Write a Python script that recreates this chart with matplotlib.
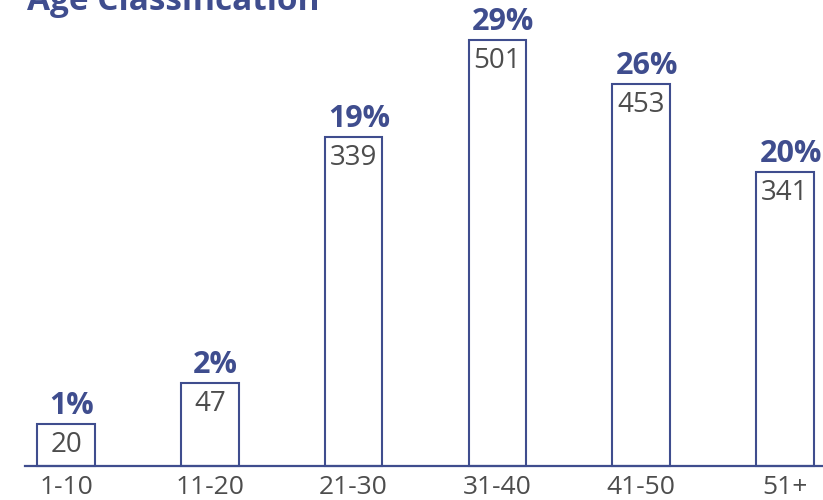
import matplotlib.pyplot as plt

# data
categories = ["1-10", "11-20", "21-30", "31-40", "41-50", "51+"]
counts = [20, 47, 339, 501, 453, 341]
percents = ["1%", "2%", "19%", "29%", "26%", "20%"]
# drawn bar heights (the infographic is not strictly to scale)
bar_heights = [42, 83, 329, 426, 382, 294]

navy = "#3f4d8e"
grey = "#4d4d4d"

plt.rcParams["font.family"] = ["Open Sans", "DejaVu Sans"]

fig = plt.figure(figsize=(8.23, 5), dpi=100)
ax = fig.add_axes([0, 0, 1, 1])
ax.set_xlim(-0.459, 5.264)
ax.set_ylim(-34, 466)
ax.axis("off")

x = range(len(categories))
ax.bar(x, bar_heights, width=0.4, color="white", edgecolor=navy, linewidth=1.5, zorder=2)
ax.axhline(0, xmin=0.03, xmax=1, color=navy, linewidth=1.6, zorder=3)

for i in x:
    h = bar_heights[i]
    ax.text(i + 0.04, h + 3, percents[i], ha="center", va="bottom",
            fontsize=22, fontweight="bold", color=navy)
    ax.text(i, h - 7, str(counts[i]), ha="center", va="top",
            fontsize=20, color=grey)
    ax.text(i, -9, categories[i], ha="center", va="top",
            fontsize=19, color=grey)

fig.text(27 / 823, 1 - 10 / 500, "Age Classification", ha="left", va="baseline",
         fontsize=24, fontweight="bold", color=navy)

fig.savefig("out.png", dpi=100)
